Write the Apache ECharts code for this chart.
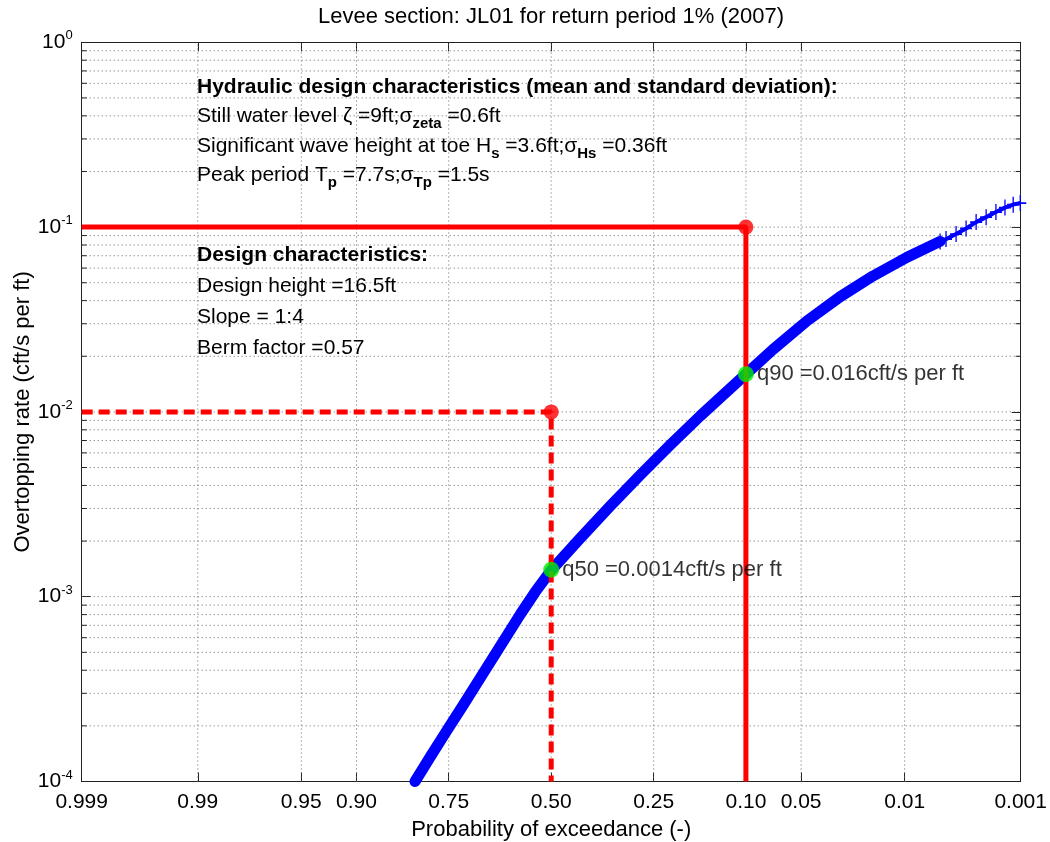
<!DOCTYPE html>
<html>
<head>
<meta charset="utf-8">
<script src="https://cdn.jsdelivr.net/npm/echarts@6/dist/echarts.min.js"></script>
<style>html,body{margin:0;padding:0;background:#fff;}#chart{width:1050px;height:842px;}</style>
</head>
<body>
<div id="chart"></div>
<script>
// ---------------- data ----------------
const titleText = 'Levee section: JL01 for return period 1% (2007)';
const xAxisName = 'Probability of exceedance (-)';
const yAxisName = 'Overtopping rate (cft/s per ft)';

const probTicks = [0.999, 0.99, 0.95, 0.90, 0.75, 0.50, 0.25, 0.10, 0.05, 0.01, 0.001];
const probTickLabels = ['0.999', '0.99', '0.95', '0.90', '0.75', '0.50', '0.25', '0.10', '0.05', '0.01', '0.001'];
const yMin = 1e-4;
const yMax = 1;

// simulated overtopping rates (exceedance probability, rate)
const curveP = [0.815, 0.786, 0.754, 0.719, 0.680, 0.639, 0.581, 0.5425, 0.500, 0.4248, 0.3493, 0.2794, 0.2171, 0.1636, 0.100, 0.0722, 0.0461, 0.0286, 0.01707, 0.00958, 0.00524];
const curveQ = [1.0e-4, 1.374e-4, 1.886e-4, 2.588e-4, 3.625e-4, 5.074e-4, 8.0e-4, 1.056e-3, 1.39e-3, 2.066e-3, 3.083e-3, 4.544e-3, 6.612e-3, 9.49e-3, 1.6e-2, 2.177e-2, 3.11e-2, 4.198e-2, 5.441e-2, 6.871e-2, 8.368e-2];
const tailP = [0.00524, 0.00468, 0.00385, 0.00316, 0.00258, 0.00210, 0.00171, 0.00141, 0.00118, 0.00101];
const tailQ = [0.0837, 0.0861, 0.0917, 0.0983, 0.1064, 0.1132, 0.1206, 0.1275, 0.1323, 0.1349];

// design criteria (red) and quantiles (green)
const designP = [0.10, 0.50];
const designQ = [0.1, 0.01];
const quantQ = [0.016, 0.0014];
const quantLabels = ['q90 =0.016cft/s per ft', 'q50 =0.0014cft/s per ft'];

const hydraulicLines = [
  '{hb|Hydraulic design characteristics (mean and standard deviation):}',
  'Still water level \u03B6 =9ft;\u03C3{sb|zeta} =0.6ft',
  'Significant wave height at toe H{sb|s} =3.6ft;\u03C3{sb|Hs} =0.36ft',
  'Peak period T{sb|p} =7.7s;\u03C3{sb|Tp} =1.5s'
];
const designLines = [
  '{hb|Design characteristics:}',
  'Design height =16.5ft',
  'Slope = 1:4',
  'Berm factor =0.57'
];

// ---------------- helpers ----------------
function probit(p) {
  const a = [-3.969683028665376e+01, 2.209460984245205e+02, -2.759285104469687e+02, 1.383577518672690e+02, -3.066479806614716e+01, 2.506628277459239e+00];
  const b = [-5.447609879822406e+01, 1.615858368580409e+02, -1.556989798598866e+02, 6.680131188771972e+01, -1.328068155288572e+01];
  const c = [-7.784894002430293e-03, -3.223964580411365e-01, -2.400758277161838e+00, -2.549732539343734e+00, 4.374664141464968e+00, 2.938163982698783e+00];
  const d = [7.784695709041462e-03, 3.224671290700398e-01, 2.445134137142996e+00, 3.754408661907416e+00];
  const pl = 0.02425, ph = 1 - pl;
  let q, r;
  if (p < pl) {
    q = Math.sqrt(-2 * Math.log(p));
    return (((((c[0]*q+c[1])*q+c[2])*q+c[3])*q+c[4])*q+c[5]) / ((((d[0]*q+d[1])*q+d[2])*q+d[3])*q+1);
  }
  if (p <= ph) {
    q = p - 0.5; r = q * q;
    return (((((a[0]*r+a[1])*r+a[2])*r+a[3])*r+a[4])*r+a[5])*q / (((((b[0]*r+b[1])*r+b[2])*r+b[3])*r+b[4])*r+1);
  }
  q = Math.sqrt(-2 * Math.log(1 - p));
  return -(((((c[0]*q+c[1])*q+c[2])*q+c[3])*q+c[4])*q+c[5]) / ((((d[0]*q+d[1])*q+d[2])*q+d[3])*q+1);
}
// exceedance probability -> normal-probability axis coordinate
const toX = p => -probit(p);

const X_MIN = toX(probTicks[0]);
const X_MAX = toX(probTicks[probTicks.length - 1]);
const tickZ = probTicks.map(toX);

const hGrid = [];
for (let e = Math.log10(yMin); e < Math.log10(yMax); e++) {
  for (let m = 1; m <= 9; m++) {
    const v = m * Math.pow(10, e);
    if (v > yMin) hGrid.push([X_MIN, v, m === 1 ? 1 : 0]);
  }
}
const vGrid = tickZ.slice(1, -1).map(z => [z, yMin]);

const FONT = 'Liberation Sans, Arial, Helvetica, sans-serif';
const chart = echarts.init(document.getElementById('chart'), null, {renderer: 'canvas'});

function hRender(params, api) {
  const v = api.value(1);
  const major = api.value(2) === 1;
  const a = api.coord([X_MIN, v]);
  const b = api.coord([X_MAX, v]);
  const children = [{
    type: 'line', shape: {x1: a[0], y1: a[1], x2: b[0], y2: b[1]},
    style: {stroke: '#666', lineWidth: 1, lineDash: [1, 3]}
  }];
  if (!major) {
    children.push({type: 'line', shape: {x1: a[0], y1: a[1], x2: a[0] + 5, y2: a[1]}, style: {stroke: '#222', lineWidth: 1}});
    children.push({type: 'line', shape: {x1: b[0], y1: b[1], x2: b[0] - 5, y2: b[1]}, style: {stroke: '#222', lineWidth: 1}});
  }
  return {type: 'group', children};
}
function vRender(params, api) {
  const z = api.value(0);
  const a = api.coord([z, yMin]);
  const b = api.coord([z, yMax]);
  return {type: 'line', shape: {x1: a[0], y1: a[1], x2: b[0], y2: b[1]}, style: {stroke: '#666', lineWidth: 1, lineDash: [1, 3]}};
}

const xLabelFmt = val => {
  const i = tickZ.findIndex(z => Math.abs(z - val) < 1e-6);
  return i >= 0 ? probTickLabels[i] : '';
};
const yLabelFmt = val => '{b|10}{s|' + Math.round(Math.log10(val)) + '}';

const richText = {
  hb: {fontWeight: 'bold', fontSize: 21, fontFamily: FONT, lineHeight: 30},
  sb: {fontWeight: 'bold', fontSize: 15, fontFamily: FONT, lineHeight: 13, verticalAlign: 'bottom'}
};
function textLines(lines, x, y0, dy) {
  return lines.map((t, i) => ({
    type: 'text', x: x, y: y0 + i * dy, z: 50,
    style: {text: t, fill: '#000', fontSize: 21, fontFamily: FONT, lineHeight: 30,
            align: 'left', verticalAlign: 'middle', rich: richText}
  }));
}

const axisLineStyle = {color: '#222', width: 1};

const option = {
  backgroundColor: '#fff',
  animation: false,
  grid: {left: 81.7, right: 29.3, top: 42.3, bottom: 60.5, containLabel: false, outerBoundsMode: 'none'},
  xAxis: [{
    type: 'value', min: X_MIN, max: X_MAX, position: 'bottom',
    axisLine: {show: true, onZero: false, lineStyle: axisLineStyle},
    axisTick: {show: true, inside: true, length: 9, customValues: tickZ, lineStyle: axisLineStyle},
    axisLabel: {customValues: tickZ, formatter: xLabelFmt, fontSize: 21, fontFamily: FONT, color: '#000', margin: 10, hideOverlap: false, showMinLabel: true, showMaxLabel: true},
    splitLine: {show: false},
    name: xAxisName, nameLocation: 'middle', nameGap: 37,
    nameTextStyle: {fontSize: 22, fontFamily: FONT, color: '#000'}
  }, {
    type: 'value', min: X_MIN, max: X_MAX, position: 'top',
    axisLine: {show: true, onZero: false, lineStyle: axisLineStyle},
    axisTick: {show: true, inside: true, length: 9, customValues: tickZ, lineStyle: axisLineStyle},
    axisLabel: {show: false}, splitLine: {show: false}
  }],
  yAxis: [{
    type: 'log', logBase: 10, min: yMin, max: yMax, position: 'left',
    axisLine: {show: true, onZero: false, lineStyle: axisLineStyle},
    axisTick: {show: true, inside: true, length: 9, lineStyle: axisLineStyle},
    axisLabel: {formatter: yLabelFmt, margin: 9, color: '#000',
      rich: {b: {fontSize: 21, fontFamily: FONT, lineHeight: 26, color: '#000'},
             s: {fontSize: 13, fontFamily: FONT, lineHeight: 12, verticalAlign: 'top', color: '#000'}}},
    splitLine: {show: false},
    name: yAxisName, nameLocation: 'middle', nameGap: 48, nameRotate: 90, nameMoveOverlap: false,
    nameTextStyle: {fontSize: 22, fontFamily: FONT, color: '#000'}
  }, {
    type: 'log', logBase: 10, min: yMin, max: yMax, position: 'right',
    axisLine: {show: true, onZero: false, lineStyle: axisLineStyle},
    axisTick: {show: true, inside: true, length: 9, lineStyle: axisLineStyle},
    axisLabel: {show: false}, splitLine: {show: false}
  }],
  graphic: [
    {type: 'text', x: 551, y: 17, z: 50,
     style: {text: titleText, fill: '#000', fontSize: 22, fontFamily: FONT, align: 'center', verticalAlign: 'middle'}}
  ].concat(textLines(hydraulicLines, 197, 87, 29.5), textLines(designLines, 197, 255, 31)),
  series: [
    {type: 'custom', name: 'hgrid', silent: true, z: 1, data: hGrid, renderItem: hRender, clip: false},
    {type: 'custom', name: 'vgrid', silent: true, z: 1, data: vGrid, renderItem: vRender, clip: false},
    {type: 'line', name: 'curve', z: 3, showSymbol: false, symbol: 'none', smooth: false,
     lineStyle: {color: '#0000ff', width: 11, cap: 'round', join: 'round'},
     data: curveP.map((p, i) => [toX(p), curveQ[i]])},
    {type: 'line', name: 'tail', z: 3, symbol: 'path://M0,6L12,6M6,0L6,12', symbolSize: [12, 16],
     showAllSymbol: true, clip: false,
     itemStyle: {color: 'rgba(0,0,0,0)', borderColor: '#0000ff', borderWidth: 1.5},
     lineStyle: {color: '#0000ff', width: 4},
     data: tailP.map((p, i) => [toX(p), tailQ[i]])},
    {type: 'line', name: 'design90', z: 4, symbol: 'none',
     lineStyle: {color: '#ff0000', width: 5},
     data: [[X_MIN, designQ[0]], [toX(designP[0]), designQ[0]], [toX(designP[0]), yMin]]},
    {type: 'line', name: 'design50', z: 4, symbol: 'none',
     lineStyle: {color: '#ff0000', width: 5, type: [11, 6]},
     data: [[X_MIN, designQ[1]], [toX(designP[1]), designQ[1]], [toX(designP[1]), yMin]]},
    {type: 'scatter', name: 'designPts', z: 5, symbolSize: 15,
     itemStyle: {color: '#ff0000'},
     data: designP.map((p, i) => [toX(p), designQ[i]])},
    {type: 'scatter', name: 'quantiles', z: 6, symbolSize: 16,
     itemStyle: {color: '#00ee00'},
     label: {show: true, position: 'right', distance: 3, fontSize: 22, fontFamily: FONT, color: '#000',
             formatter: params => quantLabels[params.dataIndex]},
     data: designP.map((p, i) => [toX(p), quantQ[i]])}
  ]
};
chart.setOption(option);
</script>
</body>
</html>
